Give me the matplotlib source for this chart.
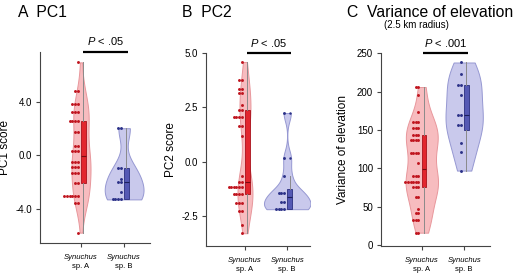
import numpy as np
import matplotlib
matplotlib.use("Agg")
import matplotlib.pyplot as plt

plt.rcParams['font.family'] = ['Liberation Sans', 'DejaVu Sans']
plt.rcParams['mathtext.fontset'] = 'custom'
plt.rcParams['mathtext.rm'] = 'Liberation Sans'
plt.rcParams['mathtext.it'] = 'Liberation Sans:italic'
plt.rcParams['axes.unicode_minus'] = False

# ---------------- data ----------------
groups = ["sp. A", "sp. B"]
genus = "Synuchus"

pc1_a = [7.0, 4.85, 4.85, 3.9, 3.9, 3.9, 3.25, 3.25, 3.25, 2.6, 2.6, 2.6, 2.6,
         1.75, 1.75, 0.7, 0.7, 0.35, 0.35, 0.35, -0.5, -0.5, -0.5, -0.9, -0.9, -0.9,
         -1.3, -1.3, -1.3, -2.05, -2.05, -3.05, -3.05, -3.05, -3.05, -3.05, -3.05,
         -3.6, -3.6, -5.8]
pc1_b = [2.05, 2.05, -0.95, -0.95, -1.75, -2.0, -2.0, -2.75, -3.3, -3.3, -3.3, -3.3]

pc2_a = [4.6, 3.78, 3.78, 3.35, 3.35, 3.17, 3.17, 2.61, 2.39, 2.39, 2.08, 2.08, 2.08, 2.08,
         1.62, 1.62, 1.19, -0.69, -0.93, -0.93, -1.19, -1.19, -1.19, -1.19, -1.19, -1.19,
         -1.51, -1.51, -1.51, -1.51, -1.93, -1.93, -1.93, -2.27, -2.27, -2.93, -3.31]
pc2_b = [2.24, 0.15, -0.69, -1.46, -1.46, -1.46, -1.85, -1.85, -2.2, -2.2, -2.2, -2.2]

elev_a = [206, 206, 196, 173, 160, 160, 160, 152, 152, 152, 144, 144, 144,
          137, 137, 137, 137, 120, 120, 120, 120, 107, 90, 90, 90,
          82, 82, 82, 82, 82, 82, 75, 75, 75, 62, 62, 47, 42, 42, 32, 32, 32, 16, 16]
elev_b = [238, 223, 209, 209, 195, 169, 169, 156, 156, 133, 121, 97]

panels = [
    dict(letter="A", title="PC1", ylabel="PC1 score", data=(pc1_a, pc1_b),
         yticks=[-4.0, 0.0, 4.0], ylim=(-6.6, 7.8), xlim=(-0.95, 1.6),
         ptext="< .05", vwidth=0.9, rect=[40/520, 1-243.3/273, 110/520, 191.6/273],
         ylab_x=-0.262, tx=18),
    dict(letter="B", title="PC2", ylabel="PC2 score", data=(pc2_a, pc2_b),
         yticks=[-2.5, 0.0, 2.5, 5.0], ylim=(-3.9, 5.0), xlim=(-0.93, 1.54),
         ptext="< .05", vwidth=1.1, rect=[205.7/520, 1-246/273, 104.3/520, 192.7/273],
         ylab_x=-0.272, tx=182),
    dict(letter="C", title="Variance of elevation", ylabel="Variance of elevation",
         data=(elev_a, elev_b), yticks=[0, 50, 100, 150, 200, 250], ylim=(-1, 250),
         xlim=(-0.97, 1.61), ptext="< .001", vwidth=0.88,
         rect=[380.7/520, 1-245.7/273, 109.3/520, 192.4/273], ylab_x=-0.29, tx=347),
]

styles = [
    dict(dot="#c0141e", vfill="#f7bcbf", vedge="#e8979c", bfill="#e2262e", bedge="#a8101a", med="#7a0a10"),
    dict(dot="#2b3188", vfill="#c9c9ec", vedge="#9698d2", bfill="#5559b4", bedge="#2a2e80", med="#1c1f5c"),
]


def kde(vals, grid):
    v = np.asarray(vals, float)
    n = len(v)
    sd = v.std(ddof=1)
    q75, q25 = np.percentile(v, [75, 25])
    bw = 0.9 * min(sd, (q75 - q25) / 1.34) * n ** -0.2
    z = (grid[:, None] - v[None, :]) / bw
    return np.exp(-0.5 * z ** 2).sum(axis=1) / (n * bw * np.sqrt(2 * np.pi))


fig = plt.figure(figsize=(5.2, 2.73), dpi=100)

for pn in panels:
    ax = fig.add_axes(pn["rect"])
    grids, dens = [], []
    for vals in pn["data"]:
        g = np.linspace(min(vals), max(vals), 512)
        grids.append(g)
        dens.append(kde(vals, g))
    dmax = max(d.max() for d in dens)
    for i, vals in enumerate(pn["data"]):
        st = styles[i]
        hw = dens[i] / dmax * pn["vwidth"] / 2
        ax.fill_betweenx(grids[i], i - hw, i + hw, facecolor=st["vfill"],
                         edgecolor=st["vedge"], linewidth=0.7, zorder=1)
        bp = ax.boxplot([vals], positions=[i + 0.055], widths=0.11, patch_artist=True,
                        showcaps=False, whis=1.5, manage_ticks=False,
                        boxprops=dict(facecolor=st["bfill"], edgecolor=st["bedge"], linewidth=0.6),
                        whiskerprops=dict(color="#8a8a8a", linewidth=0.7),
                        medianprops=dict(color=st["med"], linewidth=0.8),
                        flierprops=dict(marker="o", markersize=1.8, markerfacecolor=st["dot"],
                                        markeredgecolor="none"))
        for k in ("boxes", "whiskers", "medians", "fliers"):
            for a in bp[k]:
                a.set_zorder(2)
        uv, cnt = np.unique(np.asarray(vals, float), return_counts=True)
        xs, ys = [], []
        for v, c in zip(uv, cnt):
            for j in range(c):
                xs.append(i - 0.08 - j * 0.062)
                ys.append(v)
        ax.plot(xs, ys, "o", ms=2.1, color=st["dot"], mec="none", zorder=3)

    ax.set_xlim(pn["xlim"])
    ax.set_ylim(pn["ylim"])
    ax.set_yticks(pn["yticks"])
    if pn["letter"] == "C":
        ax.set_yticklabels([str(int(t)) for t in pn["yticks"]])
    else:
        ax.set_yticklabels(["%.1f" % t for t in pn["yticks"]])
    ax.set_xticks([0, 1])
    ax.set_xticklabels(["", ""])
    for s in ("top", "right"):
        ax.spines[s].set_visible(False)
    for s in ("left", "bottom"):
        ax.spines[s].set_color("#444444")
        ax.spines[s].set_linewidth(0.8)
    ax.tick_params(length=3, width=0.8, color="#444444", labelsize=7, pad=2.5)
    ax.set_ylabel(pn["ylabel"], fontsize=8.5)
    ax.yaxis.set_label_coords(pn["ylab_x"], 0.5)

    for i, g in enumerate(groups):
        ax.annotate(genus, xy=(i, 0), xycoords=("data", "axes fraction"), xytext=(0, -10.4),
                    textcoords="offset points", ha="center", va="center", fontsize=5.5,
                    style="italic")
        ax.annotate(g, xy=(i, 0), xycoords=("data", "axes fraction"), xytext=(0, -16.8),
                    textcoords="offset points", ha="center", va="center", fontsize=5.5)

    ax.plot([0.04, 1.08], [1.0, 1.0], transform=ax.get_xaxis_transform(), color="black",
            linewidth=1.6, clip_on=False, solid_capstyle="butt")
    ax.annotate(r"$\mathit{P}$ " + pn["ptext"], xy=(0.56, 1.0),
                xycoords=("data", "axes fraction"), xytext=(0, 7.7), textcoords="offset points",
                ha="center", va="center", fontsize=8)

    fig.text(pn["tx"] / 520, 1 - 17.3 / 273, pn["letter"] + "  " + pn["title"],
             fontsize=11.3, ha="left", va="baseline")

fig.text(416 / 520, 1 - 28.3 / 273, "(2.5 km radius)", fontsize=7, ha="center", va="baseline")

fig.savefig("out.png", dpi=100)
